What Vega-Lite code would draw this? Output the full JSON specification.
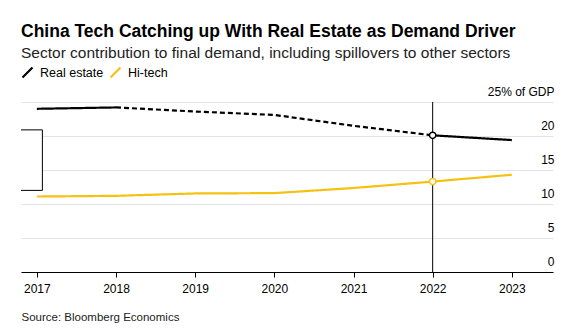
{
  "$schema": "https://vega.github.io/schema/vega-lite/v6.json",
  "autosize": "none",
  "width": 532,
  "height": 170,
  "padding": {"left": 21, "top": 102, "right": 34, "bottom": 64},
  "background": "white",
  "config": {
    "view": {"stroke": null},
    "font": "Liberation Sans"
  },
  "title": {
    "text": "China Tech Catching up With Real Estate as Demand Driver",
    "subtitle": "Sector contribution to final demand, including spillovers to other sectors",
    "anchor": "start",
    "frame": "group",
    "font": "Liberation Sans",
    "fontSize": 17.5,
    "fontWeight": "bold",
    "color": "#000000",
    "subtitleFont": "Liberation Sans",
    "subtitleFontSize": 15.5,
    "subtitleColor": "#222222",
    "subtitlePadding": 5,
    "offset": 5
  },
  "datasets": {
    "series": [
      {"year": 2017, "value": 24.0, "series": "Real estate", "segment": "a", "style": "Actual"},
      {"year": 2018, "value": 24.2, "series": "Real estate", "segment": "a", "style": "Actual"},
      {"year": 2018, "value": 24.2, "series": "Real estate", "segment": "b", "style": "Estimate"},
      {"year": 2019, "value": 23.6, "series": "Real estate", "segment": "b", "style": "Estimate"},
      {"year": 2020, "value": 23.1, "series": "Real estate", "segment": "b", "style": "Estimate"},
      {"year": 2021, "value": 21.5, "series": "Real estate", "segment": "b", "style": "Estimate"},
      {"year": 2022, "value": 20.1, "series": "Real estate", "segment": "b", "style": "Estimate"},
      {"year": 2022, "value": 20.1, "series": "Real estate", "segment": "c", "style": "Actual"},
      {"year": 2023, "value": 19.4, "series": "Real estate", "segment": "c", "style": "Actual"},
      {"year": 2017, "value": 11.1, "series": "Hi-tech", "segment": "d", "style": "Actual"},
      {"year": 2018, "value": 11.2, "series": "Hi-tech", "segment": "d", "style": "Actual"},
      {"year": 2019, "value": 11.55, "series": "Hi-tech", "segment": "d", "style": "Actual"},
      {"year": 2020, "value": 11.6, "series": "Hi-tech", "segment": "d", "style": "Actual"},
      {"year": 2021, "value": 12.35, "series": "Hi-tech", "segment": "d", "style": "Actual"},
      {"year": 2022, "value": 13.3, "series": "Hi-tech", "segment": "d", "style": "Actual"},
      {"year": 2023, "value": 14.3, "series": "Hi-tech", "segment": "d", "style": "Actual"}
    ],
    "marker": [{"year": 2022}]
  },
  "data": {"name": "series"},
  "layer": [
    {
      "mark": {"type": "line", "strokeWidth": 2.2},
      "encoding": {
        "x": {
          "field": "year",
          "type": "quantitative",
          "scale": {"domain": [2016.8, 2023.52], "nice": false, "zero": false},
          "axis": {
            "values": [2017, 2018, 2019, 2020, 2021, 2022, 2023],
            "format": "d",
            "grid": false,
            "domainColor": "#000000",
            "domainWidth": 1,
            "tickColor": "#000000",
            "tickSize": 5,
            "labelFontSize": 12,
            "labelColor": "#000000",
            "labelPadding": 6,
            "labelFlush": false,
            "labelOverlap": false,
            "title": "Source: Bloomberg Economics",
            "titleAnchor": "start",
            "titleAlign": "left",
            "titleBaseline": "alphabetic",
            "titleX": 0,
            "titleY": 48,
            "titleFontSize": 11.5,
            "titleFontWeight": "normal",
            "titleColor": "#222222"
          }
        },
        "y": {
          "field": "value",
          "type": "quantitative",
          "scale": {"domain": [0, 25], "nice": false},
          "axis": {
            "orient": "right",
            "values": [0, 5, 10, 15, 20, 25],
            "tickCount": 6,
            "grid": true,
            "gridColor": "#e3e3e3",
            "gridWidth": 1,
            "domain": false,
            "ticks": false,
            "labelAlign": "right",
            "labelBaseline": "alphabetic",
            "labelPadding": 1,
            "labelOffset": -7,
            "labelOverlap": false,
            "labelFontSize": 12,
            "labelColor": "#000000",
            "labelExpr": "datum.value == 25 ? '25% of GDP' : datum.label",
            "title": null
          }
        },
        "color": {
          "field": "series",
          "type": "nominal",
          "scale": {"domain": ["Real estate", "Hi-tech"], "range": ["#000000", "#f5c211"]},
          "legend": {
            "orient": "none",
            "legendX": 0,
            "legendY": -36,
            "direction": "horizontal",
            "title": null,
            "symbolType": "M-1,1L1,-1",
            "symbolSize": 100,
            "symbolStrokeWidth": 2.2,
            "labelFontSize": 12.5,
            "labelColor": "#000000",
            "labelOffset": 6,
            "columnPadding": 2
          }
        },
        "detail": {"field": "segment"},
        "strokeDash": {
          "field": "style",
          "type": "nominal",
          "scale": {"domain": ["Actual", "Estimate"], "range": [[1, 0], [5, 3]]},
          "legend": null
        },
        "opacity": {"value": 0}
      }
    },
    {
      "data": {"name": "marker"},
      "mark": {"type": "rule", "color": "#000000", "strokeWidth": 1},
      "encoding": {
        "x": {"field": "year", "type": "quantitative"},
        "y": {"datum": 0, "type": "quantitative"},
        "y2": {"datum": 25}
      }
    },
    {
      "data": {"name": "marker"},
      "mark": {"type": "rect", "fill": "white"},
      "encoding": {
        "x": {"datum": 2016.8, "type": "quantitative"},
        "x2": {"datum": 2017.07},
        "y": {"datum": 12.0, "type": "quantitative"},
        "y2": {"datum": 20.9}
      }
    },
    {
      "data": {"name": "marker"},
      "mark": {"type": "rule", "color": "#000000", "strokeWidth": 1},
      "encoding": {
        "x": {"datum": 2016.8, "type": "quantitative"},
        "x2": {"datum": 2017.07},
        "y": {"datum": 20.9, "type": "quantitative"}
      }
    },
    {
      "data": {"name": "marker"},
      "mark": {"type": "rule", "color": "#000000", "strokeWidth": 1},
      "encoding": {
        "x": {"datum": 2016.8, "type": "quantitative"},
        "x2": {"datum": 2017.07},
        "y": {"datum": 12.0, "type": "quantitative"}
      }
    },
    {
      "data": {"name": "marker"},
      "mark": {"type": "rule", "color": "#000000", "strokeWidth": 1},
      "encoding": {
        "x": {"datum": 2017.07, "type": "quantitative"},
        "y": {"datum": 12.0, "type": "quantitative"},
        "y2": {"datum": 20.9}
      }
    },
    {
      "mark": {"type": "line", "strokeWidth": 2.2},
      "encoding": {
        "x": {"field": "year", "type": "quantitative"},
        "y": {"field": "value", "type": "quantitative"},
        "color": {"field": "series", "type": "nominal"},
        "detail": {"field": "segment"},
        "strokeDash": {"field": "style", "type": "nominal"}
      }
    },
    {
      "transform": [{"filter": "datum.year == 2022 && datum.segment != 'b'"}],
      "mark": {"type": "point", "filled": true, "fill": "white", "strokeWidth": 1.5, "size": 40, "opacity": 1},
      "encoding": {
        "x": {"field": "year", "type": "quantitative"},
        "y": {"field": "value", "type": "quantitative"},
        "stroke": {
          "field": "series",
          "type": "nominal",
          "scale": {"domain": ["Real estate", "Hi-tech"], "range": ["#000000", "#f5c211"]},
          "legend": null
        }
      }
    }
  ]
}
